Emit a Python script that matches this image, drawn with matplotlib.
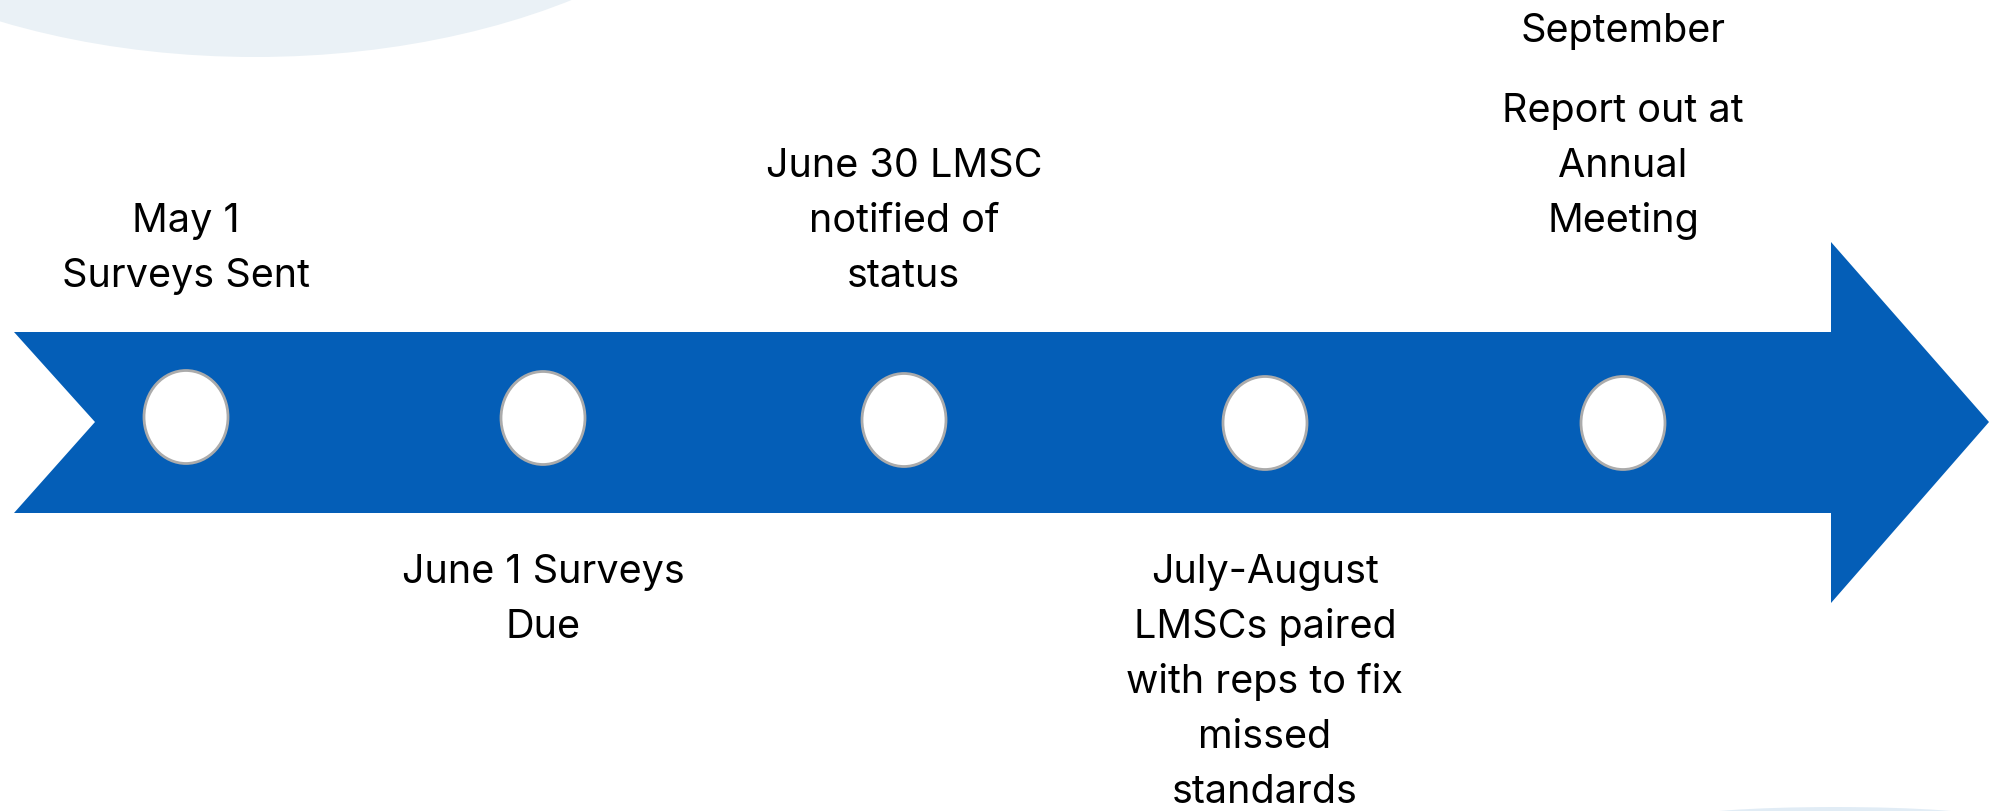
import matplotlib
matplotlib.use("Agg")
import matplotlib.pyplot as plt
from matplotlib.patches import Polygon, Ellipse

# timeline events
events_above = ["May 1\nSurveys Sent", "", "June 30 LMSC\nnotified of\nstatus", "",
                "Report out at\nAnnual\nMeeting"]
events_below = ["", "June 1 Surveys\nDue", "", "July-August\nLMSCs paired\nwith reps to fix\nmissed\nstandards", ""]
headers_above = ["", "", "", "", "September"]
milestone_x = [186, 543, 904, 1265, 1623]
milestone_y = [417, 418, 420, 423, 423]

W, H = 1989, 811
fig = plt.figure(figsize=(W / 100, H / 100), dpi=100)
ax = fig.add_axes([0, 0, 1, 1])
ax.set_xlim(0, W)
ax.set_ylim(H, 0)
ax.axis("off")

# pale background blobs
ax.add_patch(Ellipse((255, -243), 1080, 600, color="#EAF1F6", lw=0, zorder=0))
ax.add_patch(Ellipse((1835, 818), 300, 22, color="#D5E5F2", lw=0, alpha=0.7, zorder=0))

blue = "#045EB7"
arrow = [(14, 332), (1831, 332), (1831, 242), (1989, 422), (1831, 603),
         (1831, 513), (14, 513), (95, 422)]
ax.add_patch(Polygon(arrow, closed=True, color=blue, lw=0, zorder=1))

for x, y in zip(milestone_x, milestone_y):
    ax.add_patch(Ellipse((x, y), 84, 93, facecolor="white", edgecolor="#ABABAB",
                         lw=2, zorder=2))

font = "Inter"
fs = 28.5
gap = 55


def put_lines(x, text, first_baseline):
    for i, line in enumerate(text.split("\n")):
        ax.text(x, first_baseline + i * gap, line, ha="center", va="baseline",
                fontsize=fs, family=font, color="#000000", zorder=3)


for x, t, hd in zip(milestone_x, events_above, headers_above):
    if t:
        n = len(t.split("\n"))
        last = 232 if hd else 287
        put_lines(x, t, last - (n - 1) * gap)
    if hd:
        put_lines(x, hd, 42)

for x, t in zip(milestone_x, events_below):
    if t:
        put_lines(x, t, 583)

fig.savefig("out.png", dpi=100)
